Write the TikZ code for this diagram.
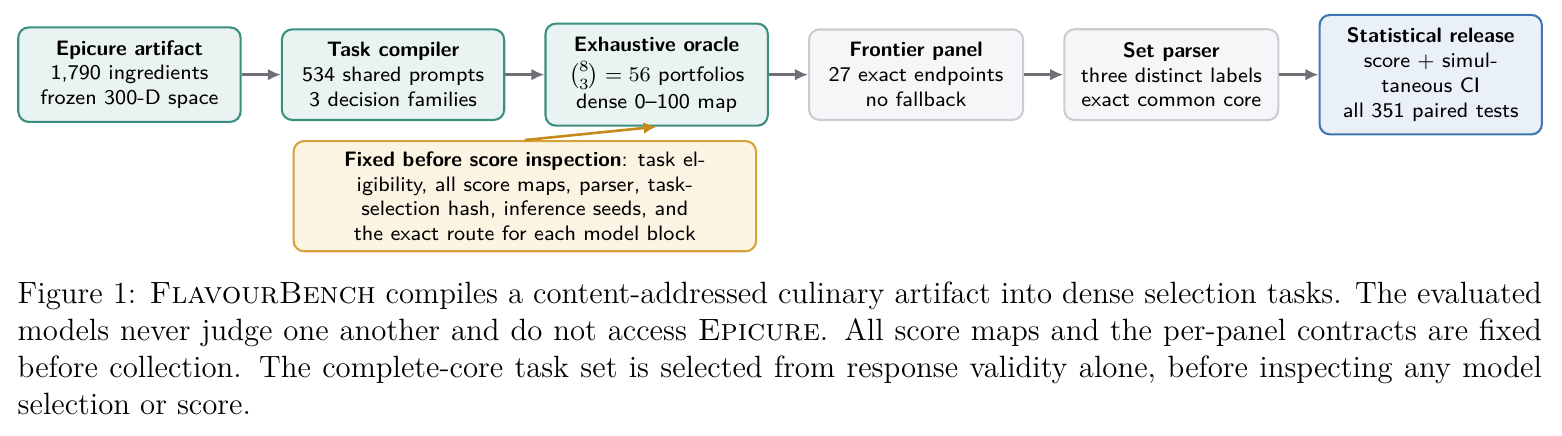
\documentclass[tikz,border=0pt]{standalone}
\usepackage{amsmath}
\usepackage{tikz}
\usetikzlibrary{positioning,arrows.meta,calc}

\definecolor{tealline}{HTML}{3A8F7E}
\definecolor{tealfill}{HTML}{E9F3F1}
\definecolor{greyline}{HTML}{C9CCD1}
\definecolor{greyfill}{HTML}{F5F6F8}
\definecolor{blueline}{HTML}{3C76B3}
\definecolor{bluefill}{HTML}{EAF0F8}
\definecolor{noteline}{HTML}{D6A23A}
\definecolor{notefill}{HTML}{FCF4E3}
\definecolor{notearrow}{HTML}{C58A1A}
\definecolor{flowgrey}{HTML}{6D7075}

\begin{document}
\begin{tikzpicture}[>={Latex[length=5pt,width=4.5pt]},
    node distance=15pt,
    stage/.style={draw=tealline, fill=tealfill, line width=0.8pt,
      rounded corners=4pt, align=center, font=\sffamily\footnotesize,
      minimum width=85.2pt, inner xsep=3pt, inner ysep=5pt},
    check/.style={stage, draw=greyline, fill=greyfill, minimum width=82pt},
    outcome/.style={stage, draw=blueline, fill=bluefill},
    flow/.style={->, draw=flowgrey, line width=1pt}]
  % The page
  \useasboundingbox (-49.6pt,28.6pt) rectangle (548.9pt,-138.4pt);

  % The artifact
  \node [stage] (epicure) at (0,0)
    {\textbf{Epicure artifact}\\1,790 ingredients\\frozen 300-D space};
  % The compiler
  \node [stage, right=of epicure] (compiler)
    {\textbf{Task compiler}\\534 shared prompts\\3 decision families};
  % The oracle
  \node [stage, right=of compiler] (oracle)
    {\textbf{Exhaustive oracle}\\[2pt]$\binom{8}{3}=56$ portfolios\\[1pt]dense 0--100 map};
  % The panel
  \node [check, right=of oracle] (frontier)
    {\textbf{Frontier panel}\\27 exact endpoints\\no fallback};
  % The parser
  \node [check, right=of frontier] (parser)
    {\textbf{Set parser}\\three distinct labels\\exact common core};
  % The release
  \node [outcome, right=of parser] (release)
    {\textbf{Statistical release}\\score $+$ simul-\\taneous CI\\all 351 paired tests};

  % The point between compiler and oracle
  \coordinate (mid) at ($(compiler.south)!0.5!(oracle.south)$);
  % What is fixed
  \node [draw=noteline, fill=notefill, line width=0.8pt, rounded corners=4pt,
    align=center, font=\sffamily\footnotesize, inner sep=4pt,
    minimum width=177.2pt, minimum height=42.2pt,
    below=6.2pt of mid] (fixed)
    {\textbf{Fixed before score inspection}: task el-\\
     igibility, all score maps, parser, task-\\
     selection hash, inference seeds, and\\
     the exact route for each model block};

  % The flow
  \draw [flow] (epicure) -- (compiler);
  \draw [flow] (compiler) -- (oracle);
  \draw [flow] (oracle) -- (frontier);
  \draw [flow] (frontier) -- (parser);
  \draw [flow] (parser) -- (release);
  \draw [->, draw=notearrow, line width=1pt] (fixed.north) -- (oracle.south);

  % The caption
  \node [anchor=north west, text width=584pt, align=justify, inner sep=0pt,
    font=\fontsize{11.8pt}{14.1pt}\selectfont]
    (caption) at ($(epicure.west)+(0,-79.3pt)$)
    {Figure 1: \textsc{FlavourBench} compiles a content-addressed culinary
     artifact into dense selection tasks. The evaluated models never judge
     one another and do not access \textsc{Epicure}. All score maps and the
     per-panel contracts are fixed before collection. The complete-core task
     set is selected from response validity alone, before inspecting any
     model selection or score.};
\end{tikzpicture}
\end{document}
